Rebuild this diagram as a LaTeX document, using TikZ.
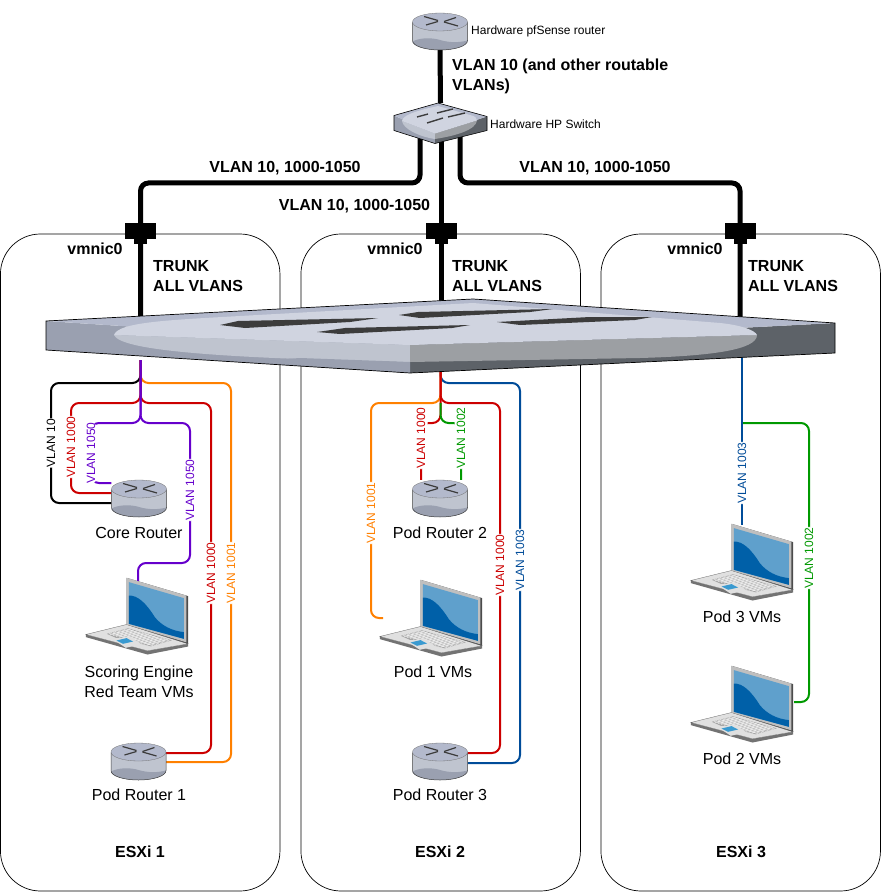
\documentclass[tikz,border=0pt]{standalone}
\usepackage{fontspec}
\setmainfont{Liberation Sans}
\definecolor{cred}{HTML}{CC0000}
\definecolor{cpur}{HTML}{6600CC}
\definecolor{corg}{HTML}{FF8000}
\definecolor{cblu}{HTML}{004C99}
\definecolor{cgrn}{HTML}{009900}
\definecolor{devtop}{HTML}{B3B9CC}
\definecolor{devlight}{HTML}{D0D4E0}
\definecolor{devmid}{HTML}{BFC4CF}
\definecolor{devleft}{HTML}{9AA0B0}
\definecolor{devgrey}{HTML}{9C9FA3}
\definecolor{devdark}{HTML}{5D6268}
\definecolor{slotc}{HTML}{3C3C3C}
\definecolor{scrlight}{HTML}{5FA0CC}
\definecolor{scrdark}{HTML}{0060A8}
\definecolor{padc}{HTML}{3A9AD0}
\tikzset{
  x=1pt,y=-1pt,
  esxbox/.style={draw=black,line width=0.7pt,rounded corners=40pt,fill=white},
  trunkline/.style={line width=5pt,draw=black,rounded corners=8pt},
  vl/.style={line width=2pt,rounded corners=8pt},
  vlabel/.style={fill=white,rotate=90,inner xsep=0.5pt,inner ysep=0pt,minimum height=13pt,font=\fontsize{12}{14}\selectfont,text depth=0pt},
  boldtxt/.style={font=\bfseries\fontsize{16}{20}\selectfont,align=left,inner sep=0pt,yshift=-1pt},
  txt/.style={font=\fontsize{16}{20}\selectfont,align=center,inner sep=0pt,yshift=-1pt},
  smalltxt/.style={font=\fontsize{12}{14}\selectfont,inner sep=0pt,yshift=-1pt},
  routerbox/.style={minimum width=55pt,minimum height=37pt,inner sep=0pt},
  laptopbox/.style={minimum width=103pt,minimum height=77pt,inner sep=0pt},
  routerpic/.pic={
    \fill[devmid] (-27.5,-9) -- (-27.5,9) .. controls (-27.5,14.5) and (-15,18.5) .. (0,18.5) .. controls (15,18.5) and (27.5,14.5) .. (27.5,9) -- (27.5,-9) -- cycle;
    \fill[devleft] (-27.5,10) .. controls (-20,6) and (-8,6) .. (0,8.5) .. controls (10,11.5) and (20,11) .. (27.5,9) .. controls (27.5,14.5) and (15,18.5) .. (0,18.5) .. controls (-15,18.5) and (-27.5,14.5) .. (-27.5,10) -- cycle;
    \fill[devtop] (0,-9.5) ellipse [x radius=27.5pt,y radius=9pt];
    \draw[line width=0.5pt,draw=black!75] (-27.5,-9) -- (-27.5,9) .. controls (-27.5,14.5) and (-15,18.5) .. (0,18.5) .. controls (15,18.5) and (27.5,14.5) .. (27.5,9) -- (27.5,-9);
    \draw[line width=0.3pt,draw=black!55] (0,-9.5) ellipse [x radius=27.5pt,y radius=9pt];
    \foreach \a/\b/\c/\d in {-16/-15/-2/-11,-14/-6.5/-2/-10,4/-10/16/-14,4/-9.5/18/-5.5}
      \draw[line width=1.2pt,draw=slotc] (\a,\b) -- (\c,\d);
  },
  laptoppic/.pic={
    % base
    \fill[black!55] (0,56.7) -- (0,59.3) -- (61.7,76.7) -- (102.3,68.7) -- (102.3,66) -- (61.7,73) -- cycle;
    \fill[black!12] (0,56.7) -- (40.7,46.7) -- (102.3,66) -- (61.7,73) -- cycle;
    \draw[line width=0.3pt,draw=black!60] (0,56.7) -- (40.7,46.7) -- (102.3,66) -- (61.7,73) -- cycle;
    % keys
    \fill[black!35] (21,56) -- (42,50.5) -- (86,62.5) -- (65,68.5) -- (55,66) -- (44,60) -- (30,60) -- cycle;
    \foreach \t in {0.1,0.2,...,0.95}
      \draw[line width=0.35pt,draw=white] ($(21,56)!\t!(42,50.5)$) -- ($(65,68.5)!\t!(86,62.5)$);
    \foreach \t in {0.07,0.14,...,0.95}
      \draw[line width=0.35pt,draw=white] ($(21,56)!\t!(65,68.5)$) -- ($(42,50.5)!\t!(86,62.5)$);
    \fill[black!12] (28,62) -- (44,58.5) -- (55,66.5) -- (40,70) -- cycle;
    \fill[padc] (30.7,62.7) -- (40.7,60.3) -- (47.3,63.7) -- (37.3,66) -- cycle;
    % lid
    \fill[black!70] (40.7,0) -- (102.3,18.3) -- (102.3,66) -- (40.7,46.7) -- cycle;
    \fill[black!25] (40.7,0) -- (100.5,17.8) -- (100.5,64.5) -- (40.7,46.7) -- cycle;
    \fill[scrlight] (43,4.3) -- (98,20.3) -- (98,61) -- (43,46) -- cycle;
    \fill[scrdark] (43,17.7) .. controls (52,17.5) and (60,25) .. (69,39.3) .. controls (76,48) and (86,53) .. (98,54.3) -- (98,61) -- (43,46) -- cycle;
  }
}
\usetikzlibrary{calc}
\begin{document}
\begin{tikzpicture}[x=1pt,y=-1pt]
\useasboundingbox (0,0) rectangle (881,893);
\fill[white] (0,0) rectangle (881,893);
% hosts
\node[esxbox,minimum width=279.5pt,minimum height=657pt,inner sep=0pt] (esx1) at (140.2,562.5) {};
\node[esxbox,minimum width=279.5pt,minimum height=657pt,inner sep=0pt] (esx2) at (440.7,562.5) {};
\node[esxbox,minimum width=279.5pt,minimum height=657pt,inner sep=0pt] (esx3) at (740.7,562.5) {};
% anchor nodes of the devices
\node[routerbox] (pfs) at (440,31.5) {};
\node[minimum width=93pt,minimum height=41pt,inner sep=0pt] (hps) at (440.5,123.5) {};
\node[minimum width=789pt,minimum height=74pt,inner sep=0pt] (core sw) at (440.5,336) {};
\node[routerbox] (core) at (139,498.5) {};
\node[routerbox] (pr1) at (138.5,761.5) {};
\node[routerbox] (pr2) at (440,498.5) {};
\node[routerbox] (pr3) at (440,761.5) {};
\node[laptopbox] (score) at (137.5,616.5) {};
\node[laptopbox] (pod1) at (431.5,618.5) {};
\node[laptopbox] (pod3) at (742.5,562.5) {};
\node[laptopbox] (pod2) at (742.5,704.5) {};
% trunk end points
\coordinate (sw1in) at (140.5,325);
\coordinate (sw2in) at (441,310);
\coordinate (sw3in) at (740,325);
\coordinate (hp1) at (420,135);
\coordinate (hp2) at (441,135);
\coordinate (hp3) at (460,135);
\coordinate (out1) at (140.5,360);
\coordinate (out2) at (440.5,365);
\coordinate (out3) at (742,350);
% trunks
\draw[line width=5pt] (pfs.south) -- (hps.north);
\draw[trunkline] (hp1) -- (420,183) -- (140.5,183) -- (sw1in);
\draw[trunkline] (hp2) -- (sw2in);
\draw[trunkline] (hp3) -- (460,183) -- (740,183) -- (sw3in);
% ports
\foreach \cx/\pn in {140.5/p1,441/p2,740.5/p3}{
  \fill[black] (\cx-15.5,223) rectangle (\cx+15.5,239);
  \fill[black] (\cx-6.5,239) rectangle (\cx+6.5,244);
}
% ESXi 1 connectors
\draw[vl,black] (out1) -- (140.5,383) -- (51,383) -- (51,443) node[vlabel,text=black] {VLAN 10} -- (51,503) -- ([yshift=-4.5pt]core.west);
\draw[vl,cred] (out1) -- (140.5,403) -- (71,403) -- (71,447) node[vlabel,text=cred] {VLAN 1000} -- (71,493) -- ([yshift=5.5pt]core.west);
\draw[vl,corg] (out1) -- (140.5,383) -- (231,383) -- (231,573) node[vlabel,text=corg] {VLAN 1001} -- (231,762) -- ([yshift=-0.5pt]pr1.east);
\draw[vl,cred] (out1) -- (140.5,403) -- (211,403) -- (211,573) node[vlabel,text=cred] {VLAN 1000} -- (211,753) -- ([yshift=8.5pt]pr1.east);
\draw[vl,cpur] (out1) -- (140.5,423) -- (91,423) -- (91,453) node[vlabel,text=cpur] {VLAN 1050} -- (91,483) -- ([yshift=15.5pt]core.west);
\draw[vl,cpur] (out1) -- (140.5,423) -- (190,423) -- (190,490) node[vlabel,text=cpur] {VLAN 1050} -- (190,563) -- (138,563) -- (138,581);
% ESXi 2 connectors
\draw[vl,cblu] (out2) -- (440.5,383) -- (520,383) -- (520,560) node[vlabel,text=cblu] {VLAN 1003} -- (520,763) -- ([yshift=-1.5pt]pr3.east);
\draw[vl,corg] (out2) -- (440.5,403) -- (371,403) -- (371,513) node[vlabel,text=corg] {VLAN 1001} -- (371,618) -- (383,618);
\draw[vl,cred] (out2) -- (440.5,423) -- (421,423) -- (421,438) node[vlabel,text=cred] {VLAN 1000} -- ([xshift=-19pt]pr2.north);
\draw[vl,cgrn] (440.5,403) -- (440.5,423) -- (461,423) -- (461,438) node[vlabel,text=cgrn] {VLAN 1002} -- ([xshift=21pt]pr2.north);
\draw[vl,cred] (out2) -- (440.5,403) -- (500,403) -- (500,565) node[vlabel,text=cred] {VLAN 1000} -- (500,753) -- ([yshift=8.5pt]pr3.east);
% ESXi 3 connectors
\draw[vl,cgrn] (742,423) -- (809,423) -- (809,558) node[vlabel,text=cgrn] {VLAN 1002} -- (809,702) -- (794,702);
\draw[vl,cblu] (out3) -- (742,473) node[vlabel,text=cblu] {VLAN 1003} -- (742,525);
% big switch
\fill[devleft] (46,321) -- (46,350) -- (410,373) -- (410,345) -- cycle;
\fill[devdark] (410,345) -- (835,323) -- (835,353) -- (410,373) -- cycle;
\fill[devtop] (46,321) -- (473,299) -- (835,323) -- (410,345) -- cycle;
\fill[devmid] (114,335) .. controls (120,349) and (200,358) .. (410,362) -- (410,345) -- cycle;
\fill[devgrey] (410,362) -- (640,358) .. controls (710,356) and (757,350) .. (757,335) -- (410,345) -- cycle;
\fill[devlight] (114,335) .. controls (118,322) and (170,320) .. (240,316) -- (473,303) -- (720,323) .. controls (740,325) and (755,330) .. (757,335) -- (410,345) -- cycle;
\fill[devleft] (410,362) -- (410,373) -- (240,362) -- (300,358) -- cycle;
\fill[slotc] (220,325) -- (238,321) -- (378,318) -- (350,322) -- (245,328) -- cycle;
\fill[slotc] (317,332) -- (345,328) -- (470,325) -- (452,328) -- (340,334) -- cycle;
\fill[slotc] (399,315) -- (418,312) -- (553,309) -- (530,312) -- (420,318) -- cycle;
\fill[slotc] (497,322) -- (590,317) -- (652,317) -- (635,320) -- (520,325) -- cycle;
\draw[line width=0.7pt,draw=black] (46,321) -- (473,299) -- (835,323) -- (835,353) -- (410,373) -- (46,350) -- cycle;
% small switch
\fill[devleft] (394,115.5) -- (394,130.5) -- (435,143.5) -- (435,133.5) -- cycle;
\fill[devdark] (435,133.5) -- (487,116.5) -- (487,130.5) -- (435,143.5) -- cycle;
\fill[devtop] (394,115.5) -- (438,103) -- (487,116.5) -- (435,133.5) -- cycle;
\fill[devmid] (402,121) .. controls (403,129) and (420,137) .. (435,139) -- (435,133.5) -- cycle;
\fill[devgrey] (435,139) .. controls (455,136) and (476,130) .. (477,120.5) -- (435,133.5) -- cycle;
\fill[devlight] (402,121) .. controls (403,115) and (415,112) .. (425,109) -- (438,106) -- (470,115) .. controls (475,116) and (477,118) .. (477,120.5) -- (435,133.5) -- cycle;
\foreach \a/\b/\c/\d in {417/117/428/114,437/113/453/109,427/123/443/118,448/117/465/113}
  \draw[line width=1.4pt,draw=slotc] (\a,\b) -- (\c,\d);
\draw[line width=0.6pt,draw=black] (394,115.5) -- (438,103) -- (487,116.5) -- (487,130.5) -- (435,143.5) -- (394,130.5) -- cycle;
% routers and laptops
\pic at (pfs) {routerpic};
\pic at (core) {routerpic};
\pic at (pr1) {routerpic};
\pic at (pr2) {routerpic};
\pic at (pr3) {routerpic};
\pic at (score.north west) {laptoppic};
\pic at (pod1.north west) {laptoppic};
\pic at (pod3.north west) {laptoppic};
\pic at (pod2.north west) {laptoppic};
% texts
\node[smalltxt,anchor=west] (tpfs) at (471,30) {Hardware pfSense router};
\node[smalltxt,anchor=west] (thps) at (490,123) {Hardware HP Switch};
\node[boldtxt,anchor=west] (tv10) at (452,75) {VLAN 10 (and other routable\\VLANs)};
\node[boldtxt] (tl1) at (285,167) {VLAN 10, 1000-1050};
\node[boldtxt] (tl2) at (354.5,205) {VLAN 10, 1000-1050};
\node[boldtxt] (tl3) at (595,167) {VLAN 10, 1000-1050};
\node[boldtxt] (vm1) at (95,248) {vmnic0};
\node[boldtxt] (vm2) at (395,248) {vmnic0};
\node[boldtxt] (vm3) at (695,248) {vmnic0};
\node[boldtxt,anchor=west] (tr1) at (153,275) {TRUNK\\ALL VLANS};
\node[boldtxt,anchor=west] (tr2) at (452,275) {TRUNK\\ALL VLANS};
\node[boldtxt,anchor=west] (tr3) at (748,275) {TRUNK\\ALL VLANS};
\node[txt] (lcore) at (139,532) {Core Router};
\node[txt] (lscore) at (139,681) {Scoring Engine\\Red Team VMs};
\node[txt] (lpr1) at (139,794) {Pod Router 1};
\node[txt] (lpr2) at (440,532) {Pod Router 2};
\node[txt] (lp1) at (433,671) {Pod 1 VMs};
\node[txt] (lpr3) at (440,794) {Pod Router 3};
\node[txt] (lp3) at (742,616) {Pod 3 VMs};
\node[txt] (lp2) at (742,758) {Pod 2 VMs};
\node[boldtxt] (e1) at (140,851) {ESXi 1};
\node[boldtxt] (e2) at (440,851) {ESXi 2};
\node[boldtxt] (e3) at (741,851) {ESXi 3};
\end{tikzpicture}
\end{document}
